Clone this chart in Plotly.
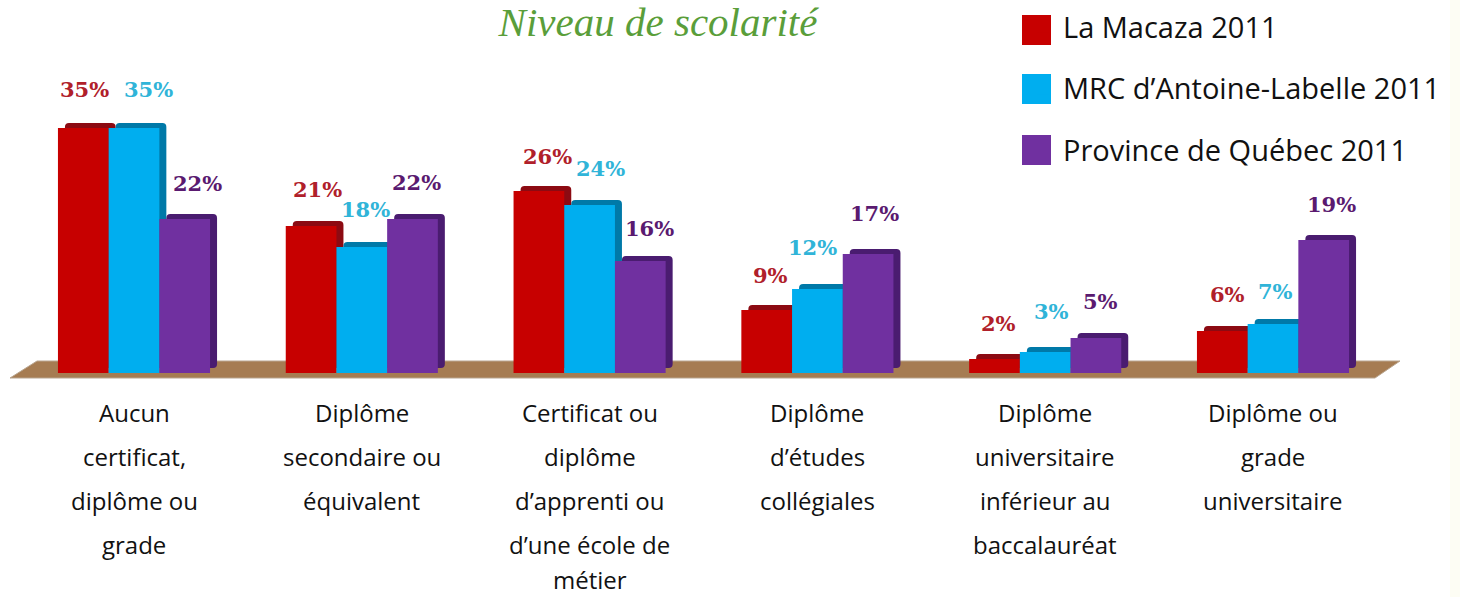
import plotly.graph_objects as go

W, H = 1460, 597
label_lines = [
    ["Aucun", "certificat,", "diplôme ou", "grade"],
    ["Diplôme", "secondaire ou", "équivalent"],
    ["Certificat ou", "diplôme", "d’apprenti ou", "d’une école de", "métier"],
    ["Diplôme", "d’études", "collégiales"],
    ["Diplôme", "universitaire", "inférieur au", "baccalauréat"],
    ["Diplôme ou", "grade", "universitaire"],
]
categories = [" ".join(c) for c in label_lines]
series_names = ["La Macaza 2011", "MRC d’Antoine-Labelle 2011", "Province de Québec 2011"]
la_macaza = [35, 21, 26, 9, 2, 6]
mrc = [35, 18, 24, 12, 3, 7]
quebec = [22, 22, 16, 17, 5, 19]
series_values = [la_macaza, mrc, quebec]

front_colors = ["#c70000", "#00aeef", "#7030a0"]
side_colors = ["#8c0a12", "#0079a8", "#4a1c70"]
label_colors = ["#b0202a", "#30b4d8", "#5a1a70"]

# label centres in page pixels (the labels are hand-placed in the reference)
label_px = [
    [(84, 90), (317, 190), (547, 156), (770, 275), (998, 323), (1227, 294)],
    [(148, 90), (365, 210), (600, 168), (812, 247), (1051, 311), (1275, 291)],
    [(197, 183), (416, 182), (649, 228), (875, 213), (1100, 301), (1331, 205)],
]

X0, STEP = 134.0, 227.8
BW = 50.7 / STEP
DEPTH_X = 7 / STEP
DEPTH_Y = 0.7

fig = go.Figure()
for j, (name, vals) in enumerate(zip(series_names, series_values)):
    off = -1.5 * BW + j * BW
    fig.add_trace(go.Bar(
        x=categories, y=vals, base=[DEPTH_Y] * 6, width=BW, offset=off + DEPTH_X,
        marker=dict(color=side_colors[j], line_width=0, cornerradius=4),
        showlegend=False, hoverinfo="skip",
    ))
    fig.add_trace(go.Bar(
        x=categories, y=vals, width=BW, offset=off, name=name, legendgroup=name,
        marker=dict(color=front_colors[j], line_width=0),
    ))

ann = []
for j, rows in enumerate(label_px):
    for i, (px, py) in enumerate(rows):
        ann.append(dict(
            x=px / W, y=1 - py / H, xref="paper", yref="paper", showarrow=False,
            xanchor="center", yanchor="middle",
            text=f"{series_values[j][i]}%",
            font=dict(family="DejaVu Serif", size=21, color=label_colors[j], weight="bold"),
        ))
for i, lines in enumerate(label_lines):
    for k, line in enumerate(lines):
        ann.append(dict(
            x=i, xref="x", y=1 - min(412 + 44 * k, 579) / H, yref="paper", showarrow=False,
            xanchor="center", yanchor="middle",
            text=line, font=dict(family="Open Sans", size=24, color="#111111"),
        ))

shapes = [
    dict(type="rect", xref="paper", yref="paper", x0=1450 / W, x1=1, y0=0, y1=1,
         fillcolor="#fdfdf4", line_width=0, layer="below"),
    dict(type="path", xref="paper", yref="paper", layer="below",
         path=f"M {10/W} {1-378/H} L {37/W} {1-361/H} L {1400/W} {1-361/H} L {1375/W} {1-378/H} Z",
         fillcolor="#a67c52", line=dict(color="#b9a58f", width=1)),
]
for j, yc in enumerate([30, 89, 150]):
    shapes.append(dict(type="rect", xref="paper", yref="paper",
                       x0=1022 / W, x1=1051 / W, y0=1 - (yc + 15) / H, y1=1 - (yc - 15) / H,
                       fillcolor=front_colors[j], line_width=0, layer="above"))

fig.update_layout(
    width=W, height=H, autosize=False,
    margin=dict(l=0, r=0, t=0, b=0),
    paper_bgcolor="white", plot_bgcolor="rgba(0,0,0,0)",
    barmode="overlay",
    title=dict(text="<i>Niveau de scolarité</i>", x=658 / W, xanchor="center", y=1 - 22 / H,
               yanchor="middle",
               font=dict(family="Liberation Serif", size=41, color="#5a9e3a")),
    xaxis=dict(range=[-X0 / STEP, (W - X0) / STEP], showticklabels=False, showgrid=False,
               zeroline=False, showline=False, ticks="", type="category",
               categoryorder="array", categoryarray=categories),
    yaxis=dict(range=[-(H - 373) / 7, 373 / 7], visible=False),
    legend=dict(x=1023 / W, xanchor="left", y=1 - 1 / H, yanchor="top",
                traceorder="grouped", tracegroupgap=21, itemwidth=30,
                bgcolor="rgba(0,0,0,0)",
                font=dict(family="Open Sans", size=29, color="#111111")),
    annotations=ann, shapes=shapes,
)
fig.write_html("out.html", config={"displayModeBar": False},
               post_script="document.body.style.margin='0';")
